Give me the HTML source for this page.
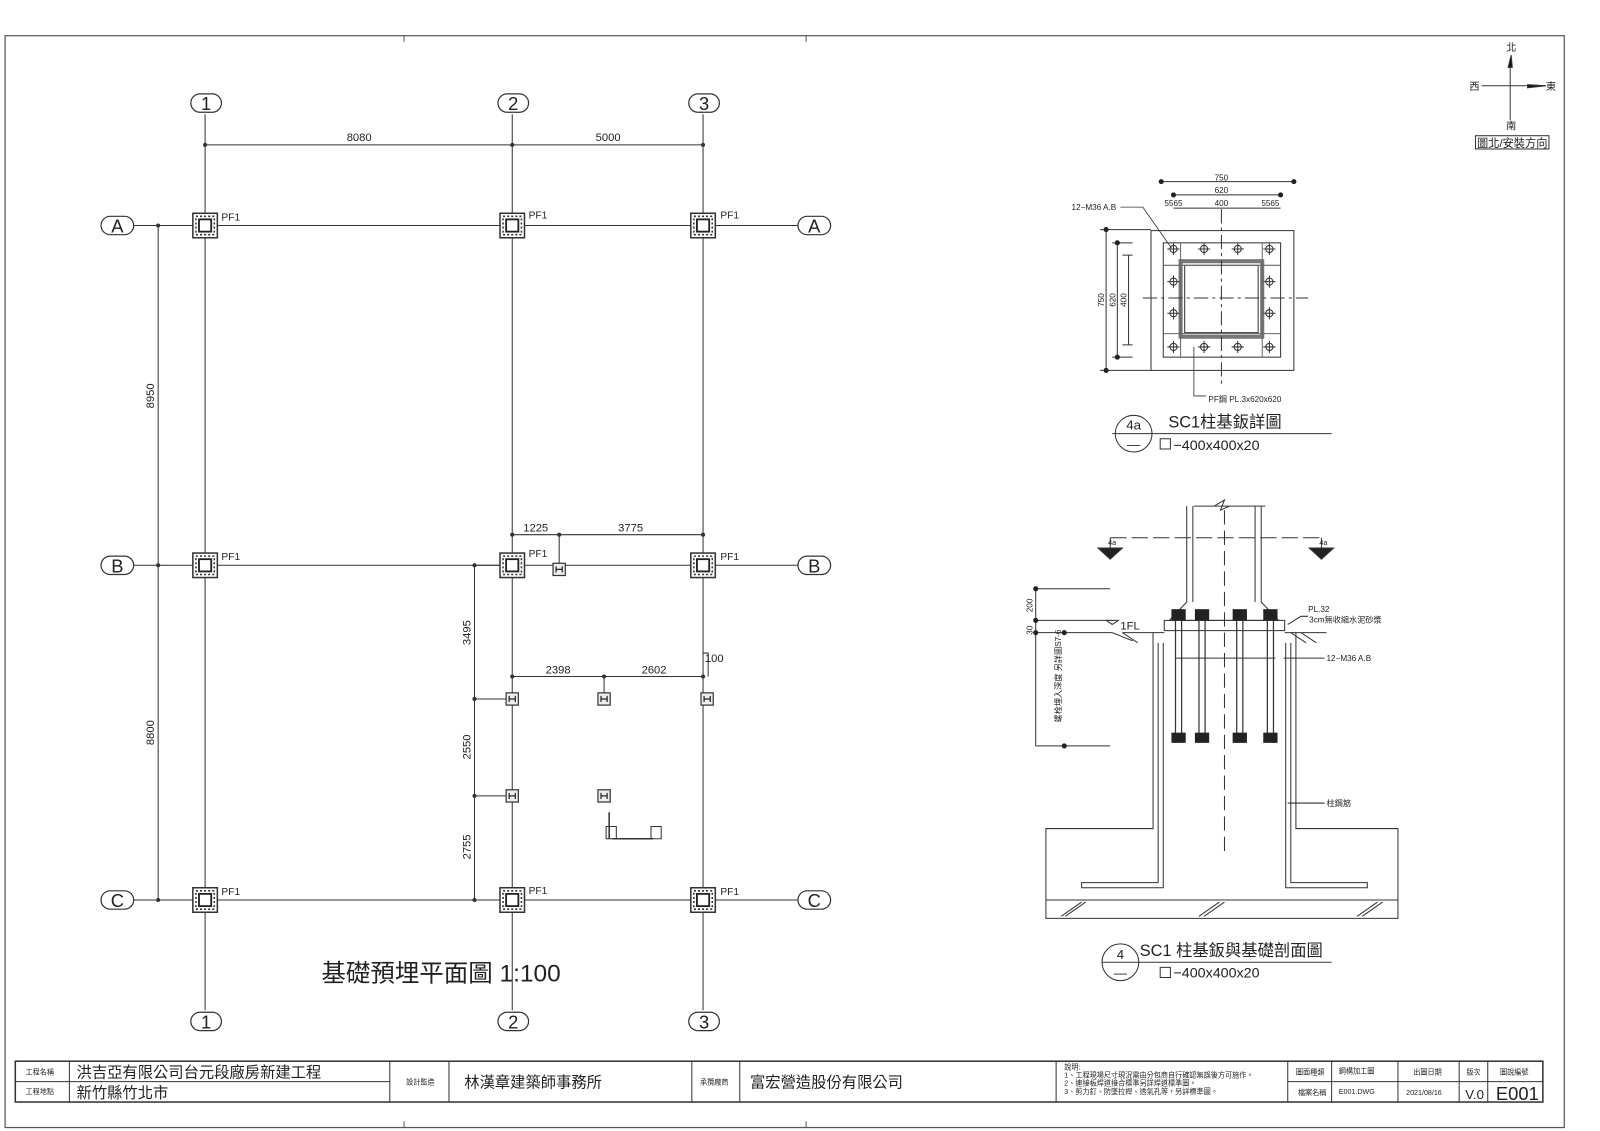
<!DOCTYPE html>
<html><head><meta charset="utf-8"><style>
html,body{margin:0;padding:0;background:#fff;}
svg{display:block;}
text{font-family:"Liberation Sans","Noto Sans CJK TC",sans-serif;fill:#222;}
</style></head><body>
<svg width="1600" height="1131" viewBox="0 0 1600 1131" xmlns="http://www.w3.org/2000/svg">
<defs>
<g id="pf">
 <rect x="-12" y="-12" width="24" height="24" fill="#fff" stroke="#333" stroke-width="1.5"/>
 <rect x="-9" y="-9" width="18" height="18" fill="none" stroke="#333" stroke-dasharray="2 2" stroke-width="1.5"/>
 <rect x="-6" y="-6" width="12" height="12" fill="none" stroke="#222" stroke-width="1.8"/>
</g>
<g id="hm">
 <rect x="-6" y="-6" width="12" height="12" fill="#eee" stroke="#333" stroke-width="1.2"/>
 <path d="M-3,-3V3M3,-3V3M-3,0H3" stroke="#222" stroke-width="1.2"/>
</g>
<g id="bolt"><circle r="3.5" fill="none" stroke="#333"/><path d="M-6,0H6M0,-6V6" stroke="#333"/></g>
<g id="dot"><circle r="2.5" fill="#222"/></g>
</defs>
<g transform="scale(1.0204)">
<g fill="none" stroke="#333" stroke-width="1">
<rect x="5" y="35" width="1528" height="1070" stroke="#555" stroke-width="1.2"/>
<path d="M396,35v6M790,35v6M396,1099v6M790,1099v6" stroke="#555"/>
<path d="M201,112V990M502,112V990M689,112V990"/>
<path d="M131,221H782M131,554H782M131,882H782"/>
<path d="M201,142H689" /><path d="M155,221V882"/>
<path d="M465,554V882M465,554H502M465,685H497M465,780H497M465,882H502"/>
<path d="M502,524H689M548,524V552M502,663H689M592,663V680M689,640H694V663"/>
</g>
<g fill="#333">
<circle cx="201" cy="142" r="2"/><circle cx="502" cy="142" r="2"/><circle cx="689" cy="142" r="2"/>
<circle cx="155" cy="221" r="2"/><circle cx="155" cy="554" r="2"/><circle cx="155" cy="882" r="2"/>
<circle cx="465" cy="554" r="2"/><circle cx="465" cy="685" r="2"/><circle cx="465" cy="780" r="2"/><circle cx="465" cy="882" r="2"/>
<circle cx="502" cy="524" r="2"/><circle cx="548" cy="524" r="2"/><circle cx="689" cy="524" r="2"/>
<circle cx="502" cy="663" r="2"/><circle cx="592" cy="663" r="2"/><circle cx="689" cy="663" r="2"/>
</g>
<g fill="#fff" stroke="#333" stroke-width="1.2">
<rect x="187" y="92" width="30" height="18" rx="9"/><rect x="488" y="92" width="30" height="18" rx="9"/><rect x="675" y="92" width="30" height="18" rx="9"/>
<rect x="187" y="992" width="30" height="18" rx="9"/><rect x="488" y="992" width="30" height="18" rx="9"/><rect x="675" y="992" width="30" height="18" rx="9"/>
<rect x="99" y="212" width="32" height="18" rx="9"/><rect x="782" y="212" width="32" height="18" rx="9"/>
<rect x="99" y="545" width="32" height="18" rx="9"/><rect x="782" y="545" width="32" height="18" rx="9"/>
<rect x="99" y="873" width="32" height="18" rx="9"/><rect x="782" y="873" width="32" height="18" rx="9"/>
</g>
<g font-size="18" text-anchor="middle">
<text x="202" y="108">1</text><text x="503" y="108">2</text><text x="690" y="108">3</text>
<text x="202" y="1008">1</text><text x="503" y="1008">2</text><text x="690" y="1008">3</text>
<text x="115" y="228">A</text><text x="798" y="228">A</text>
<text x="115" y="561">B</text><text x="798" y="561">B</text>
<text x="115" y="889">C</text><text x="798" y="889">C</text>
</g>
<g font-size="11" text-anchor="middle">
<text x="352" y="138">8080</text><text x="596" y="138">5000</text>
<text x="525" y="521">1225</text><text x="618" y="521">3775</text>
<text x="547" y="660">2398</text><text x="641" y="660">2602</text>
<text x="700" y="649">100</text>
<text transform="translate(151,388) rotate(-90)">8950</text>
<text transform="translate(151,718) rotate(-90)">8800</text>
<text transform="translate(461,620) rotate(-90)">3495</text>
<text transform="translate(461,732) rotate(-90)">2550</text>
<text transform="translate(461,830) rotate(-90)">2755</text>
</g>
<g>
<use href="#pf" x="201" y="221"/><use href="#pf" x="502" y="221"/><use href="#pf" x="689" y="221"/>
<use href="#pf" x="201" y="554"/><use href="#pf" x="502" y="554"/><use href="#pf" x="689" y="554"/>
<use href="#pf" x="201" y="882"/><use href="#pf" x="502" y="882"/><use href="#pf" x="689" y="882"/>
<use href="#hm" x="548" y="558"/><use href="#hm" x="502" y="685"/><use href="#hm" x="592" y="685"/><use href="#hm" x="693" y="685"/>
<use href="#hm" x="502" y="780"/><use href="#hm" x="592" y="780"/>
</g>
<g font-size="10">
<text x="217" y="216">PF1</text><text x="518" y="214">PF1</text><text x="706" y="214">PF1</text>
<text x="217" y="549">PF1</text><text x="518" y="546">PF1</text><text x="706" y="549">PF1</text>
<text x="217" y="877">PF1</text><text x="518" y="876">PF1</text><text x="706" y="877">PF1</text>
</g>
<g fill="none" stroke="#333">
<rect x="594" y="810" width="10" height="12"/><rect x="638" y="810" width="10" height="12"/>
<path d="M597,796V822M600,822H640" stroke-width="1.5"/>
</g>
<text x="315" y="962" font-size="24">基礎預埋平面圖  1:100</text>

<g stroke="#333" fill="none">
<path d="M1480,60V118M1452,84H1515"/>
<path d="M1478,66L1481,54L1482,66Z M1497,83L1515,84L1497,86Z" fill="#111"/>
<rect x="1446" y="133" width="72" height="13"/>
</g>
<g font-size="10" text-anchor="middle">
<text x="1481" y="50">北</text><text x="1445" y="88">西</text><text x="1520" y="88">東</text><text x="1481" y="127">南</text>
<text x="1482" y="144" font-size="11">圖北/安裝方向</text>
</g>

<g fill="none" stroke="#333">
<rect x="1128" y="226" width="140" height="137"/>
<rect x="1140" y="238" width="115" height="112"/>
<rect x="1157" y="256" width="80" height="74" stroke-width="4" stroke="#777"/>
<rect x="1161" y="260" width="72" height="66"/>
<path d="M1140,260H1255M1140,327H1255M1157,238V350M1237,238V350" stroke="#666"/>
<path d="M1120,292H1282M1197,205V380" stroke-dasharray="14 4 3 4"/>
<path d="M1138,178H1268M1150,191H1255M1150,204H1255M1084,225V363M1095,238V350M1106,250V338"/>
<path d="M1078,225H1128M1090,238H1110M1100,250H1110M1100,338H1110M1090,350H1110M1078,363H1128"/>
<path d="M1170,340V388H1182" stroke-width="0.8"/>
<path d="M1098,203H1120L1148,243" stroke-width="0.8"/>
<path d="M1090,425H1305M1137,430h10v10h-10z"/>
<circle cx="1111" cy="425" r="18"/>
</g>
<g>
<use href="#bolt" x="1150" y="244"/><use href="#bolt" x="1180" y="244"/><use href="#bolt" x="1213" y="244"/><use href="#bolt" x="1244" y="244"/>
<use href="#bolt" x="1150" y="276"/><use href="#bolt" x="1244" y="276"/><use href="#bolt" x="1150" y="307"/><use href="#bolt" x="1244" y="307"/>
<use href="#bolt" x="1150" y="340"/><use href="#bolt" x="1180" y="340"/><use href="#bolt" x="1213" y="340"/><use href="#bolt" x="1244" y="340"/>
<use href="#dot" x="1138" y="178"/><use href="#dot" x="1268" y="178"/><use href="#dot" x="1150" y="191"/><use href="#dot" x="1255" y="191"/>
<use href="#dot" x="1084" y="225"/><use href="#dot" x="1084" y="363"/><use href="#dot" x="1095" y="238"/><use href="#dot" x="1095" y="350"/>
</g>
<g font-size="8" text-anchor="middle">
<text x="1197" y="177">750</text><text x="1197" y="189">620</text><text x="1197" y="202">400</text>
<text x="1150" y="202">5565</text><text x="1245" y="202">5565</text>
<text transform="translate(1082,294) rotate(-90)">750</text>
<text transform="translate(1093,294) rotate(-90)">620</text>
<text transform="translate(1104,294) rotate(-90)">400</text>
<text x="1072" y="206">12−M36 A.B</text>
<text x="1220" y="394">PF鋼 PL.3x620x620</text>
</g>
<text x="1111" y="421" font-size="13" text-anchor="middle">4a</text>
<text x="1111" y="440" font-size="13" text-anchor="middle">—</text>
<text x="1145" y="419" font-size="16">SC1柱基鈑詳圖</text>
<text x="1150" y="441" font-size="14">−400x400x20</text>

<g fill="none" stroke="#333">
<path d="M1170,496H1240M1163,496V590M1169,496V590M1230,496V590M1236,496V590"/>
<path d="M1190,496L1200,490L1196,500L1205,496" />
<path d="M1088,527H1295M1088,527V540M1295,527V540" stroke-dasharray="16 5"/>
<path d="M1076,537H1100L1088,548Z M1283,537H1307L1295,548Z" fill="#222"/>
<path d="M1200,500V840" stroke-dasharray="14 6"/>
<path d="M1163,590L1146,608H1253L1236,590"/>
<rect x="1141" y="608" width="118" height="10"/>
<path d="M1015,577H1088M1015,608H1090M1015,620H1090M1015,731H1088M1015,577V731"/>
<path d="M1100,620H1141M1259,620H1300M1130,620V812H1025V900H1370V812H1270V620"/>
<path d="M1135,630V865H1060V870H1140V630M1265,630V865H1340V870H1260V630"/>
<path d="M1025,882H1370"/>
<path d="M1040,898L1060,884M1044,898L1064,884M1175,898L1195,884M1180,898L1200,884M1330,898L1350,884M1335,898L1355,884"/>
<path d="M1152,598V728M1158,598V728M1175,598V728M1181,598V728M1212,598V728M1218,598V728M1242,598V728M1248,598V728" stroke-width="1.2"/>
<path d="M1152,645H1250M1258,645H1298M1262,787H1298M1262,612L1275,604H1282"/>
<path d="M1090,620L1110,628M1100,620L1115,630M1265,620L1280,630M1275,620L1290,630"/>
<path d="M1090,612L1096,608H1084Z"/>
<circle cx="1098" cy="943" r="18"/><path d="M1080,943H1305M1137,948h10v10h-10z"/>
</g>
<g fill="#222">
<rect x="1148" y="597" width="14" height="11"/><rect x="1171" y="597" width="14" height="11"/><rect x="1208" y="597" width="14" height="11"/><rect x="1238" y="597" width="14" height="11"/>
<rect x="1148" y="718" width="14" height="10"/><rect x="1171" y="718" width="14" height="10"/><rect x="1208" y="718" width="14" height="10"/><rect x="1238" y="718" width="14" height="10"/>
<circle cx="1015" cy="577" r="2.5"/><circle cx="1015" cy="608" r="2.5"/><circle cx="1015" cy="620" r="2.5"/><circle cx="1043" cy="620" r="2.5"/><circle cx="1043" cy="731" r="2.5"/>
</g>
<g font-size="8">
<text transform="translate(1012,600) rotate(-90)">200</text>
<text transform="translate(1012,622) rotate(-90)">30</text>
<text x="1098" y="617" font-size="11">1FL</text>
<text x="1282" y="600">PL.32</text>
<text x="1283" y="610">3cm無收縮水泥砂漿</text>
<text x="1300" y="648">12−M36 A.B</text>
<text x="1300" y="790">柱鋼筋</text>
<text transform="translate(1040,708) rotate(-90)">螺栓埋入深度 另詳圖S7-6</text>
<text x="1086" y="534" font-size="7">4a</text><text x="1293" y="534" font-size="7">4a</text>
</g>
<text x="1098" y="940" font-size="13" text-anchor="middle">4</text>
<text x="1098" y="958" font-size="13" text-anchor="middle">—</text>
<text x="1117" y="937" font-size="16">SC1  柱基鈑與基礎剖面圖</text>
<text x="1150" y="958" font-size="14">−400x400x20</text>

<g fill="none" stroke="#333">
<rect x="15" y="1040" width="1497" height="40" stroke-width="1.5"/>
<path d="M15,1060H382M68,1040V1080M382,1040V1080M440,1040V1080M678,1040V1080M725,1040V1080M1035,1040V1080M1262,1040V1080M1305,1040V1080M1370,1040V1080M1430,1040V1080M1458,1040V1080M1262,1060H1458M1458,1060H1512"/>
</g>
<g font-size="7" fill="#555">
<text x="25" y="1053">工程名稱</text><text x="25" y="1072">工程地點</text>
<text x="398" y="1063">設計監造</text><text x="686" y="1063">承攬廠商</text>
<text x="1043" y="1048">說明:</text>
<text x="1043" y="1056">1、工程現場尺寸現況需由分包商自行確認無誤後方可施作。</text>
<text x="1043" y="1064">2、連接板焊道接合標準另詳焊道標準圖。</text>
<text x="1043" y="1072">3、剪力釘、防墜拉桿、透氣孔等，另詳標準圖。</text>
<text x="1270" y="1053">圖面種類</text><text x="1272" y="1073">檔案名稱</text>
<text x="1312" y="1052">鋼構加工圖</text><text x="1312" y="1072">E001.DWG</text>
<text x="1385" y="1053">出圖日期</text><text x="1378" y="1073">2021/08/16</text>
<text x="1437" y="1053">版次</text><text x="1470" y="1053">圖說編號</text>
</g>
<g font-size="15">
<text x="75" y="1056">洪吉亞有限公司台元段廠房新建工程</text>
<text x="75" y="1076">新竹縣竹北市</text>
<text x="455" y="1066">林漢章建築師事務所</text>
<text x="735" y="1066">富宏營造股份有限公司</text>
</g>
<text x="1436" y="1077" font-size="13">V.0</text>
<text x="1466" y="1078" font-size="18">E001</text>
</g>
</svg>
</body></html>
